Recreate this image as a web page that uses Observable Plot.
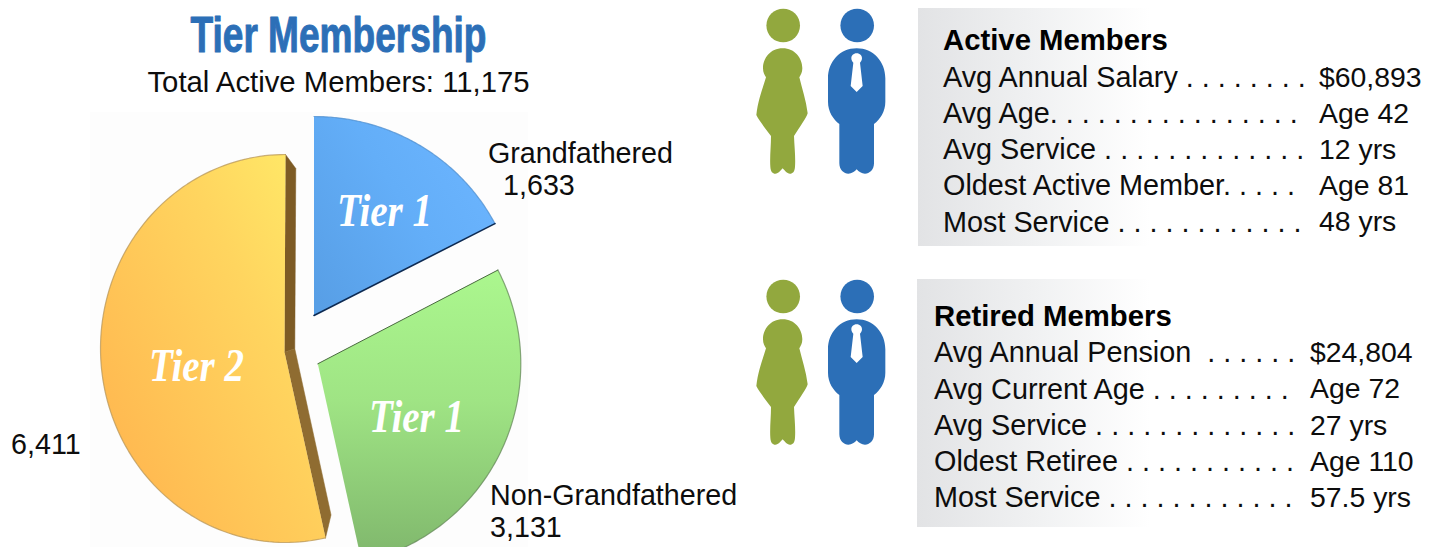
<!DOCTYPE html>
<html>
<head>
<meta charset="utf-8">
<style>
html,body{margin:0;padding:0;background:#fff;overflow:hidden;width:1434px;height:547px}
svg{display:block}
</style>
<script src="https://cdn.jsdelivr.net/npm/d3@7"></script>
<script src="https://cdn.jsdelivr.net/npm/@observablehq/plot@0.6"></script>
</head>
<body>
<div id="chart"></div>
<script>
// ---- chart values ----
const chartTitle = "Tier Membership";
const chartSubtitle = "Total Active Members: 11,175";
const sliceTiers = ["Tier 1", "Tier 1", "Tier 2"];
const sliceGroups = ["Grandfathered", "Non-Grandfathered", ""];
const sliceMembers = ["1,633", "3,131", "6,411"];
const sliceSweepDegrees = [62.5, 105, 192.5]; // as drawn in the picture
const activeHeading = "Active Members";
const activeLabels = [
  "Avg Annual Salary . . . . . . . .",
  "Avg Age. . . . . . . . . . . . . . . .",
  "Avg Service . . . . . . . . . . . . .",
  "Oldest Active Member. . . . .",
  "Most Service . . . . . . . . . . . ."
];
const activeValues = ["$60,893", "Age 42", "12 yrs", "Age 81", "48 yrs"];
const retiredHeading = "Retired Members";
const retiredLabels = [
  "Avg Annual Pension  . . . . . .",
  "Avg Current Age . . . . . . . . .",
  "Avg Service . . . . . . . . . . . . .",
  "Oldest Retiree . . . . . . . . . . .",
  "Most Service . . . . . . . . . . . ."
];
const retiredValues = ["$24,804", "Age 72", "27 yrs", "Age 110", "57.5 yrs"];

// ---- layout ----
const W = 1434, H = 547;
const FONT = "'Liberation Sans', Arial, sans-serif";
const sliceShape = [
  {apex: [313.5, 315],   cx: 313.5, cy: 315,   rx: 204, ry: 199, fill: "url(#gBlue)",   rim: "#4f8fcf"},
  {apex: [317.3, 363.3], cx: 317.3, cy: 363.3, rx: 203, ry: 203, fill: "url(#gGreen)",  rim: "#66895a"},
  {apex: [284, 351.7],   cx: 285,   cy: 348,   rx: 185, ry: 194, fill: "url(#gYellow)", rim: "#b8975a"}
];
const toRad = d => d * Math.PI / 180;
const starts = d3.cumsum([0, ...sliceSweepDegrees]);
const edgePoint = (s, deg) => [s.cx + s.rx * Math.sin(toRad(deg)), s.cy - s.ry * Math.cos(toRad(deg))];
const sliceArcs = sliceShape.map((s, i) => {
  const a0 = i === 0 ? 0 : starts[i], a1 = starts[i + 1], n = 120;
  return d3.range(n + 1).map(k => edgePoint(s, a0 + (a1 - a0) * k / n));
});
const slicePolys = sliceArcs.map((arc, i) => [sliceShape[i].apex, ...arc]);

// side walls of the large slice
const y = sliceShape[2];
const yTop = edgePoint(y, starts[3]), yEnd = edgePoint(y, starts[2]);
const apexBack = [y.apex[0] + 10.3, y.apex[1] - 3.4];
const wallBack = [[yTop[0], yTop[1]], [yTop[0] + 10.3, yTop[1] + 14], apexBack, y.apex];
const wallFront = [y.apex, apexBack, [yEnd[0] + 5.5, yEnd[1] - 23], yEnd];
// dark underside edges
const blueEdge = [sliceShape[0].apex, edgePoint(sliceShape[0], starts[1])];
const greenEdge = [sliceShape[1].apex, edgePoint(sliceShape[1], starts[1])];

const titleRows = [{x: 338, y: 35, text: chartTitle}];
const sliceLabelPos = [[384, 211], [416, 417], [196, 366]];
const tierRows = sliceTiers.map((t, i) => ({text: t, x: sliceLabelPos[i][0], y: sliceLabelPos[i][1]}));
const sideRows = [
  {x: 487.5, y: 153, text: sliceGroups[0]},
  {x: 502.5, y: 185, text: sliceMembers[0]},
  {x: 489.5, y: 495, text: sliceGroups[1]},
  {x: 489.5, y: 527, text: sliceMembers[1]},
  {x: 10.5,  y: 444, text: sliceMembers[2]}
];
const labelRows = (labels, xL, y0, step) => labels.map((t, i) => ({x: xL, y: y0 + i * step, text: t}));
const rowLabels = labelRows(activeLabels, 942.5, 77, 36.2).concat(labelRows(retiredLabels, 933.5, 352.5, 36.3));
const rowValues = labelRows(activeValues, 1318.5, 77, 36.2).concat(labelRows(retiredValues, 1309.5, 352.5, 36.3));
const headings = [{x: 942.5, y: 40, text: activeHeading}, {x: 933.5, y: 316, text: retiredHeading}];
const panels = [{x1: 918, x2: 1150, y1: 8, y2: 246}, {x1: 917, x2: 1150, y1: 279, y2: 527}];

// person pictograms, offset per row
const iconRows = [0, 271];
const heads = iconRows.flatMap(dy => [{x: 782.7, y: 25 + dy, f: "#92a83e"}, {x: 856.7, y: 25 + dy, f: "#2c6fb7"}]);
const womanPath = "M128 145C165 145 187 175 187 205C187 218 182 225 178 232C186 265 198 300 203 340C200 352 180 380 162 408C163 440 167 470 165 500C164 515 158 521 150 521C140 521 135 512 128 505C121 512 116 521 106 521C98 521 92 515 91 500C89 470 93 440 93 408C76 385 56 360 49 345C54 300 68 265 78 232C74 225 69 218 69 205C69 175 91 145 128 145Z";
const manPath = "M350 145C400 145 436 185 436 235L436 305C436 335 420 358 402 372L402 490C402 510 388 521 375 521C365 521 356 515 350 508C344 515 335 521 325 521C312 521 298 510 298 490L298 372C280 358 264 335 264 305L264 235C264 185 300 145 350 145Z";
const tiePath = "M350 160C360 160 366 167 366 175C366 182 362 186 360 188L368 258L350 276L332 258L340 188C338 186 334 182 334 175C334 167 340 160 350 160Z";

function defsMark() {
  const defs = d3.create("svg:defs");
  const grad = (id, x1, y1, x2, y2, stops) => {
    const g = defs.append("linearGradient").attr("id", id)
      .attr("x1", x1).attr("y1", y1).attr("x2", x2).attr("y2", y2);
    stops.forEach(([o, c]) => g.append("stop").attr("offset", o).attr("stop-color", c));
  };
  grad("gBlue", 0, 0.9, 1, 0.2, [[0, "#589fe6"], [0.55, "#63aef8"], [1, "#6cb5ff"]]);
  grad("gGreen", 0.5, 0, 0.5, 1, [[0, "#abf78e"], [0.45, "#9fe484"], [1, "#7fb66c"]]);
  grad("gYellow", 1, 0.1, 0.1, 0.9, [[0, "#ffea68"], [0.35, "#ffd55f"], [1, "#ffb64f"]]);
  grad("gPanel", 0, 0, 1, 0, [[0, "#e2e3e5"], [0.5, "#f0f1f2"], [1, "#ffffff"]]);
  return defs.node();
}
function iconMark(index, {x, y}) {
  const g = d3.create("svg:g");
  iconRows.forEach(dy => {
    const p = g.append("g").attr("transform", `translate(${x(740)},${y(dy)}) scale(${1 / 3})`);
    p.append("path").attr("d", womanPath).attr("fill", "#92a83e");
    p.append("path").attr("d", manPath).attr("fill", "#2c6fb7");
    p.append("path").attr("d", tiePath).attr("fill", "#fff");
  });
  return g.node();
}

const polyMark = (pts, opts) => Plot.line(pts, {x: d => d[0], y: d => d[1], curve: "linear-closed", ...opts});
const textMark = (data, opts) => Plot.text(data, {x: "x", y: "y", text: "text", textAnchor: "start", lineAnchor: "middle", fontFamily: FONT, fill: "#0d0d0d", ...opts});

const plot = Plot.plot({
  width: W, height: H, margin: 0,
  style: {background: "#fff", overflow: "hidden"},
  x: {domain: [0, W], range: [0, W], axis: null},
  y: {domain: [0, H], range: [0, H], axis: null},
  marks: [
    defsMark,
    Plot.rect([{x1: 90, x2: 528, y1: 112, y2: H}], {x1: "x1", x2: "x2", y1: "y1", y2: "y2", fill: "#fdfdfd"}),
    Plot.rect(panels, {x1: "x1", x2: "x2", y1: "y1", y2: "y2", fill: "url(#gPanel)"}),
    polyMark(wallBack, {fill: "#7d5b25", stroke: "#7d5b25", strokeWidth: 0.5}),
    polyMark(wallFront, {fill: "#8f6c31", stroke: "#8f6c31", strokeWidth: 0.5}),
    ...slicePolys.map((pts, i) => polyMark(pts, {fill: sliceShape[i].fill, stroke: "none"})),
    ...sliceArcs.map((pts, i) => Plot.line(pts, {x: d => d[0], y: d => d[1], stroke: sliceShape[i].rim, strokeWidth: 1.2, strokeOpacity: 0.75})),
    Plot.line(blueEdge, {x: d => d[0], y: d => d[1], stroke: "#0d2a52", strokeWidth: 1.6}),
    Plot.line(greenEdge, {x: d => d[0], y: d => d[1], stroke: "#4a6a40", strokeWidth: 1}),
    Plot.dot(heads, {x: "x", y: "y", r: 16.8, fill: d => d.f, stroke: "none"}),
    iconMark,
    Plot.text(titleRows, {x: "x", y: "y", text: "text", textAnchor: "middle", lineAnchor: "middle", fontFamily: "'Liberation Sans Narrow','Liberation Sans',sans-serif", fontWeight: 700, fontSize: 50, fill: "#2c6fb7", stroke: "#2c6fb7", strokeWidth: 1, className: "ttl"}),
    Plot.text([{x: 338, y: 82, text: chartSubtitle}], {x: "x", y: "y", text: "text", textAnchor: "middle", lineAnchor: "middle", fontFamily: FONT, fontSize: 29.3, fill: "#0d0d0d"}),
    Plot.text(tierRows, {x: "x", y: "y", text: "text", textAnchor: "middle", lineAnchor: "middle", fontFamily: "'Liberation Serif',serif", fontStyle: "italic", fontWeight: 700, fontSize: 46, fill: "#fff", className: "tier"}),
    textMark(sideRows, {fontSize: 28.7}),
    textMark(headings, {fontSize: 29.3, fontWeight: 700, fill: "#000"}),
    textMark(rowLabels, {fontSize: 28.8}),
    textMark(rowValues, {fontSize: 28.4})
  ]
});
document.getElementById("chart").appendChild(plot);
// squeeze the display title and the script tier labels to the reference's measure
d3.select(plot).selectAll(".ttl text").attr("textLength", 296).attr("lengthAdjust", "spacingAndGlyphs");
d3.select(plot).selectAll(".tier text").attr("textLength", 95).attr("lengthAdjust", "spacingAndGlyphs");
</script>
</body>
</html>
